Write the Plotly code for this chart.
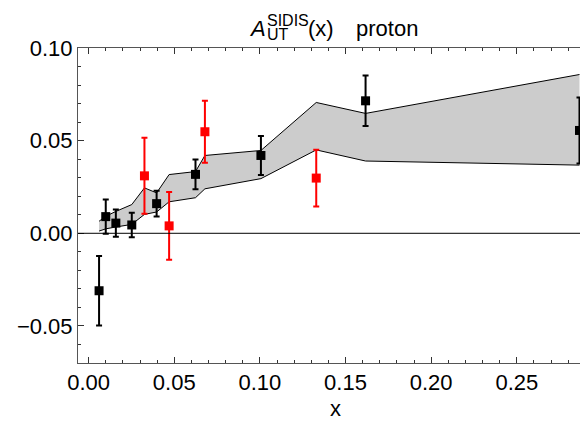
import plotly.graph_objects as go

# COMPASS-like (black) data
x_black = [0.0061, 0.0100, 0.0159, 0.0252, 0.0397, 0.0624, 0.1006, 0.1617, 0.2866]
y_black = [-0.031, 0.0090, 0.0055, 0.0045, 0.0160, 0.0318, 0.0420, 0.0715, 0.0555]
e_black = [0.0188, 0.0093, 0.0074, 0.0066, 0.0070, 0.0080, 0.0105, 0.0136, 0.0178]

# HERMES-like (red) data
x_red = [0.0326, 0.0470, 0.0679, 0.1329]
y_red = [0.0310, 0.0040, 0.0548, 0.0298]
e_red = [0.0205, 0.0183, 0.0167, 0.0153]

# theory band
x_band = [0.0061, 0.0100, 0.0159, 0.0252, 0.0326, 0.0397, 0.0470, 0.0624, 0.0679, 0.1006, 0.1329, 0.1617, 0.2866]
band_upper = [0.0065, 0.0092, 0.0118, 0.0155, 0.0245, 0.0218, 0.0317, 0.0333, 0.0420, 0.0447, 0.0706, 0.0647, 0.0857]
band_lower = [0.0012, 0.0024, 0.0034, 0.0048, 0.0102, 0.0115, 0.0170, 0.0192, 0.0240, 0.0295, 0.0450, 0.0390, 0.0368]

x_range = [-0.0062, 0.2869]
y_range = [-0.07, 0.10]
x_ticks = [0.0, 0.05, 0.10, 0.15, 0.20, 0.25]
x_ticklabels = ["0.00", "0.05", "0.10", "0.15", "0.20", "0.25"]
y_ticks = [-0.05, 0.0, 0.05, 0.10]
y_ticklabels = ["\u22120.05", "0.00", "0.05", "0.10"]

FONT = "Liberation Sans, Arial, Helvetica, sans-serif"

fig = go.Figure()

fig.add_trace(go.Scatter(x=x_band, y=band_lower, mode="lines",
                         line=dict(color="black", width=1), showlegend=False, hoverinfo="skip"))
fig.add_trace(go.Scatter(x=x_band, y=band_upper, mode="lines", fill="tonexty",
                         fillcolor="#cccccc",
                         line=dict(color="black", width=1), showlegend=False, hoverinfo="skip"))

# zero line
fig.add_hline(y=0, line=dict(color="black", width=1))

fig.add_trace(go.Scatter(x=x_red, y=y_red, mode="markers",
                         marker=dict(symbol="square", size=9, color="#ff0000"),
                         error_y=dict(type="data", array=e_red, color="#ff0000", thickness=2, width=3),
                         showlegend=False))
fig.add_trace(go.Scatter(x=x_black, y=y_black, mode="markers",
                         marker=dict(symbol="square", size=9, color="black"),
                         error_y=dict(type="data", array=e_black, color="black", thickness=2, width=3),
                         showlegend=False))

axis_common = dict(showline=True, linecolor="#555555", linewidth=1,
                   ticks="inside", ticklen=6, tickcolor="#333333", tickwidth=1,
                   showgrid=False, zeroline=False, automargin=False,
                   tickfont=dict(family=FONT, size=22, color="black"))

fig.update_xaxes(range=x_range, tickvals=x_ticks, ticktext=x_ticklabels, mirror="ticks",
                 minor=dict(dtick=0.01, tick0=0, ticks="inside", ticklen=3, tickcolor="#333333"),
                 **axis_common)
# y axis not mirrored: the right frame is cropped off in the reference
fig.update_yaxes(range=y_range, tickvals=y_ticks, ticktext=y_ticklabels, mirror=False,
                 minor=dict(dtick=0.01, tick0=0, ticks="inside", ticklen=3, tickcolor="#333333"),
                 **axis_common)

L, T, B = 78, 48, 58
W, H = 580, 421
PW, PH = W - L, H - T - B

def px(xp):
    return (xp - L) / PW

def py(yp):
    return (T + PH - yp) / PH

title_parts = [
    ("<i>A</i>", "left", 247.0, 28.5, 22),
    ("SIDIS", "left", 264.5, 20.0, 16),
    ("UT", "left", 264.5, 35.0, 16),
    ("(x)", "left", 306.0, 28.5, 22),
    ("proton", "left", 354.0, 28.5, 22),
    ("x", "center", 335.0, 408.0, 22),
]
for txt, anchor, xl, yc, sz in title_parts:
    fig.add_annotation(text=txt, x=px(xl), y=py(yc), xref="paper", yref="paper",
                       xanchor=anchor, yanchor="middle", showarrow=False,
                       font=dict(family=FONT, size=sz, color="black"))

fig.update_layout(width=W, height=H, margin=dict(l=L, r=0, t=T, b=B, autoexpand=False),
                  plot_bgcolor="white", paper_bgcolor="white", showlegend=False)

fig.write_html("out.html", config={"displayModeBar": False},
               post_script="document.body.style.margin='0';")
